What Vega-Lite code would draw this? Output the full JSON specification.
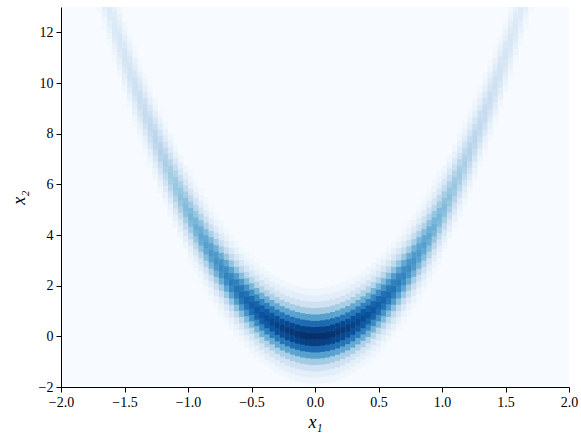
{
  "$schema": "https://vega.github.io/schema/vega-lite/v6.json",
  "width": 508,
  "height": 380,
  "autosize": {"type": "none"},
  "padding": {"left": 61, "top": 7, "right": 12, "bottom": 46},
  "background": "white",
  "config": {
    "view": {"stroke": null, "fill": "#f7fbff"},
    "axis": {
      "grid": false, "domainColor": "#000", "domainWidth": 1, "tickColor": "#000", "tickWidth": 1, "tickSize": 5,
      "labelColor": "#000", "labelFont": "Liberation Serif", "labelFontSize": 14, "labelPadding": 3,
      "labelFlush": false, "labelOverlap": false,
      "titleFont": "Liberation Serif", "titleFontSize": 18, "titleFontWeight": "normal", "titleFontStyle": "italic", "titleColor": "#000"
    }
  },
  "data": {"values": [
{"x":0.02,"y":-1.75,"d":0.044},{"x":0.02,"y":-1.5,"d":0.101},{"x":0.02,"y":-1.25,"d":0.203},{"x":0.02,"y":-1,"d":0.36},{"x":0.02,"y":-0.75,"d":0.563},{"x":0.02,"y":-0.5,"d":0.775},{"x":0.02,"y":-0.25,"d":0.938},{"x":0.02,"y":0,"d":1},{"x":0.02,"y":0.25,"d":0.938},{"x":0.02,"y":0.5,"d":0.775},{"x":0.02,"y":0.75,"d":0.563},{"x":0.02,"y":1,"d":0.36},{"x":0.02,"y":1.25,"d":0.203},{"x":0.02,"y":1.5,"d":0.101},{"x":0.02,"y":1.75,"d":0.044},
{"x":0.06,"y":-1.73,"d":0.044},{"x":0.06,"y":-1.48,"d":0.101},{"x":0.06,"y":-1.23,"d":0.202},{"x":0.06,"y":-0.98,"d":0.359},{"x":0.06,"y":-0.73,"d":0.561},{"x":0.06,"y":-0.48,"d":0.773},{"x":0.06,"y":-0.23,"d":0.935},{"x":0.06,"y":0.02,"d":0.997},{"x":0.06,"y":0.27,"d":0.935},{"x":0.06,"y":0.52,"d":0.773},{"x":0.06,"y":0.77,"d":0.561},{"x":0.06,"y":1.02,"d":0.359},{"x":0.06,"y":1.27,"d":0.202},{"x":0.06,"y":1.52,"d":0.101},{"x":0.06,"y":1.77,"d":0.044},
{"x":0.1,"y":-1.7,"d":0.044},{"x":0.1,"y":-1.45,"d":0.1},{"x":0.1,"y":-1.2,"d":0.201},{"x":0.1,"y":-0.95,"d":0.357},{"x":0.1,"y":-0.7,"d":0.558},{"x":0.1,"y":-0.45,"d":0.769},{"x":0.1,"y":-0.2,"d":0.93},{"x":0.1,"y":0.05,"d":0.992},{"x":0.1,"y":0.3,"d":0.93},{"x":0.1,"y":0.55,"d":0.769},{"x":0.1,"y":0.8,"d":0.558},{"x":0.1,"y":1.05,"d":0.357},{"x":0.1,"y":1.3,"d":0.201},{"x":0.1,"y":1.55,"d":0.1},{"x":0.1,"y":1.8,"d":0.044},
{"x":0.14,"y":-1.65,"d":0.043},{"x":0.14,"y":-1.4,"d":0.099},{"x":0.14,"y":-1.15,"d":0.2},{"x":0.14,"y":-0.9,"d":0.355},{"x":0.14,"y":-0.65,"d":0.555},{"x":0.14,"y":-0.4,"d":0.763},{"x":0.14,"y":-0.15,"d":0.924},{"x":0.14,"y":0.1,"d":0.985},{"x":0.14,"y":0.35,"d":0.924},{"x":0.14,"y":0.6,"d":0.763},{"x":0.14,"y":0.85,"d":0.555},{"x":0.14,"y":1.1,"d":0.355},{"x":0.14,"y":1.35,"d":0.2},{"x":0.14,"y":1.6,"d":0.099},{"x":0.14,"y":1.85,"d":0.043},
{"x":0.18,"y":-1.59,"d":0.043},{"x":0.18,"y":-1.34,"d":0.098},{"x":0.18,"y":-1.09,"d":0.198},{"x":0.18,"y":-0.84,"d":0.351},{"x":0.18,"y":-0.59,"d":0.549},{"x":0.18,"y":-0.34,"d":0.756},{"x":0.18,"y":-0.09,"d":0.915},{"x":0.18,"y":0.16,"d":0.975},{"x":0.18,"y":0.41,"d":0.915},{"x":0.18,"y":0.66,"d":0.756},{"x":0.18,"y":0.91,"d":0.549},{"x":0.18,"y":1.16,"d":0.351},{"x":0.18,"y":1.41,"d":0.198},{"x":0.18,"y":1.66,"d":0.098},{"x":0.18,"y":1.91,"d":0.043},
{"x":0.22,"y":-1.51,"d":0.042},{"x":0.22,"y":-1.26,"d":0.097},{"x":0.22,"y":-1.01,"d":0.195},{"x":0.22,"y":-0.76,"d":0.347},{"x":0.22,"y":-0.51,"d":0.542},{"x":0.22,"y":-0.26,"d":0.746},{"x":0.22,"y":-0.01,"d":0.903},{"x":0.22,"y":0.24,"d":0.963},{"x":0.22,"y":0.49,"d":0.903},{"x":0.22,"y":0.74,"d":0.746},{"x":0.22,"y":0.99,"d":0.542},{"x":0.22,"y":1.24,"d":0.347},{"x":0.22,"y":1.49,"d":0.195},{"x":0.22,"y":1.74,"d":0.097},{"x":0.22,"y":1.99,"d":0.042},
{"x":0.26,"y":-1.42,"d":0.042},{"x":0.26,"y":-1.17,"d":0.096},{"x":0.26,"y":-0.92,"d":0.193},{"x":0.26,"y":-0.67,"d":0.342},{"x":0.26,"y":-0.42,"d":0.534},{"x":0.26,"y":-0.17,"d":0.735},{"x":0.26,"y":0.08,"d":0.89},{"x":0.26,"y":0.33,"d":0.949},{"x":0.26,"y":0.58,"d":0.89},{"x":0.26,"y":0.83,"d":0.735},{"x":0.26,"y":1.08,"d":0.534},{"x":0.26,"y":1.33,"d":0.342},{"x":0.26,"y":1.58,"d":0.193},{"x":0.26,"y":1.83,"d":0.096},{"x":0.26,"y":2.08,"d":0.042},
{"x":0.3,"y":-1.31,"d":0.041},{"x":0.3,"y":-1.06,"d":0.094},{"x":0.3,"y":-0.81,"d":0.189},{"x":0.3,"y":-0.56,"d":0.336},{"x":0.3,"y":-0.31,"d":0.525},{"x":0.3,"y":-0.06,"d":0.722},{"x":0.3,"y":0.19,"d":0.874},{"x":0.3,"y":0.44,"d":0.932},{"x":0.3,"y":0.69,"d":0.874},{"x":0.3,"y":0.94,"d":0.722},{"x":0.3,"y":1.19,"d":0.525},{"x":0.3,"y":1.44,"d":0.336},{"x":0.3,"y":1.69,"d":0.189},{"x":0.3,"y":1.94,"d":0.094},{"x":0.3,"y":2.19,"d":0.041},
{"x":0.34,"y":-1.18,"d":0.04},{"x":0.34,"y":-0.93,"d":0.092},{"x":0.34,"y":-0.68,"d":0.186},{"x":0.34,"y":-0.43,"d":0.329},{"x":0.34,"y":-0.18,"d":0.515},{"x":0.34,"y":0.07,"d":0.708},{"x":0.34,"y":0.32,"d":0.857},{"x":0.34,"y":0.57,"d":0.914},{"x":0.34,"y":0.82,"d":0.857},{"x":0.34,"y":1.07,"d":0.708},{"x":0.34,"y":1.32,"d":0.515},{"x":0.34,"y":1.57,"d":0.329},{"x":0.34,"y":1.82,"d":0.186},{"x":0.34,"y":2.07,"d":0.092},{"x":0.34,"y":2.32,"d":0.04},
{"x":0.38,"y":-1.04,"d":0.039},{"x":0.38,"y":-0.79,"d":0.09},{"x":0.38,"y":-0.54,"d":0.181},{"x":0.38,"y":-0.29,"d":0.321},{"x":0.38,"y":-0.04,"d":0.503},{"x":0.38,"y":0.21,"d":0.692},{"x":0.38,"y":0.46,"d":0.838},{"x":0.38,"y":0.71,"d":0.893},{"x":0.38,"y":0.96,"d":0.838},{"x":0.38,"y":1.21,"d":0.692},{"x":0.38,"y":1.46,"d":0.503},{"x":0.38,"y":1.71,"d":0.321},{"x":0.38,"y":1.96,"d":0.181},{"x":0.38,"y":2.21,"d":0.09},{"x":0.38,"y":2.46,"d":0.039},
{"x":0.42,"y":-0.89,"d":0.038},{"x":0.42,"y":-0.64,"d":0.088},{"x":0.42,"y":-0.39,"d":0.177},{"x":0.42,"y":-0.14,"d":0.314},{"x":0.42,"y":0.11,"d":0.49},{"x":0.42,"y":0.36,"d":0.675},{"x":0.42,"y":0.61,"d":0.817},{"x":0.42,"y":0.86,"d":0.871},{"x":0.42,"y":1.11,"d":0.817},{"x":0.42,"y":1.36,"d":0.675},{"x":0.42,"y":1.61,"d":0.49},{"x":0.42,"y":1.86,"d":0.314},{"x":0.42,"y":2.11,"d":0.177},{"x":0.42,"y":2.36,"d":0.088},{"x":0.42,"y":2.61,"d":0.038},
{"x":0.46,"y":-0.71,"d":0.037},{"x":0.46,"y":-0.46,"d":0.086},{"x":0.46,"y":-0.21,"d":0.172},{"x":0.46,"y":0.04,"d":0.305},{"x":0.46,"y":0.29,"d":0.477},{"x":0.46,"y":0.54,"d":0.657},{"x":0.46,"y":0.79,"d":0.795},{"x":0.46,"y":1.04,"d":0.848},{"x":0.46,"y":1.29,"d":0.795},{"x":0.46,"y":1.54,"d":0.657},{"x":0.46,"y":1.79,"d":0.477},{"x":0.46,"y":2.04,"d":0.305},{"x":0.46,"y":2.29,"d":0.172},{"x":0.46,"y":2.54,"d":0.086},{"x":0.46,"y":2.79,"d":0.037},
{"x":0.5,"y":-0.52,"d":0.036},{"x":0.5,"y":-0.27,"d":0.083},{"x":0.5,"y":-0.02,"d":0.167},{"x":0.5,"y":0.23,"d":0.296},{"x":0.5,"y":0.48,"d":0.463},{"x":0.5,"y":0.73,"d":0.638},{"x":0.5,"y":0.98,"d":0.772},{"x":0.5,"y":1.23,"d":0.823},{"x":0.5,"y":1.48,"d":0.772},{"x":0.5,"y":1.73,"d":0.638},{"x":0.5,"y":1.98,"d":0.463},{"x":0.5,"y":2.23,"d":0.296},{"x":0.5,"y":2.48,"d":0.167},{"x":0.5,"y":2.73,"d":0.083},{"x":0.5,"y":2.98,"d":0.036},
{"x":0.54,"y":-0.32,"d":0.035},{"x":0.54,"y":-0.07,"d":0.08},{"x":0.54,"y":0.18,"d":0.162},{"x":0.54,"y":0.43,"d":0.287},{"x":0.54,"y":0.68,"d":0.448},{"x":0.54,"y":0.93,"d":0.617},{"x":0.54,"y":1.18,"d":0.747},{"x":0.54,"y":1.43,"d":0.796},{"x":0.54,"y":1.68,"d":0.747},{"x":0.54,"y":1.93,"d":0.617},{"x":0.54,"y":2.18,"d":0.448},{"x":0.54,"y":2.43,"d":0.287},{"x":0.54,"y":2.68,"d":0.162},{"x":0.54,"y":2.93,"d":0.08},{"x":0.54,"y":3.18,"d":0.035},
{"x":0.58,"y":-0.1,"d":0.034},{"x":0.58,"y":0.15,"d":0.078},{"x":0.58,"y":0.4,"d":0.156},{"x":0.58,"y":0.65,"d":0.277},{"x":0.58,"y":0.9,"d":0.433},{"x":0.58,"y":1.15,"d":0.596},{"x":0.58,"y":1.4,"d":0.721},{"x":0.58,"y":1.65,"d":0.769},{"x":0.58,"y":1.9,"d":0.721},{"x":0.58,"y":2.15,"d":0.596},{"x":0.58,"y":2.4,"d":0.433},{"x":0.58,"y":2.65,"d":0.277},{"x":0.58,"y":2.9,"d":0.156},{"x":0.58,"y":3.15,"d":0.078},{"x":0.58,"y":3.4,"d":0.034},
{"x":0.62,"y":0.13,"d":0.033},{"x":0.62,"y":0.38,"d":0.075},{"x":0.62,"y":0.63,"d":0.15},{"x":0.62,"y":0.88,"d":0.267},{"x":0.62,"y":1.13,"d":0.417},{"x":0.62,"y":1.38,"d":0.574},{"x":0.62,"y":1.63,"d":0.695},{"x":0.62,"y":1.88,"d":0.741},{"x":0.62,"y":2.13,"d":0.695},{"x":0.62,"y":2.38,"d":0.574},{"x":0.62,"y":2.63,"d":0.417},{"x":0.62,"y":2.88,"d":0.267},{"x":0.62,"y":3.13,"d":0.15},{"x":0.62,"y":3.38,"d":0.075},{"x":0.62,"y":3.63,"d":0.033},
{"x":0.66,"y":0.38,"d":0.031},{"x":0.66,"y":0.63,"d":0.072},{"x":0.66,"y":0.88,"d":0.145},{"x":0.66,"y":1.13,"d":0.256},{"x":0.66,"y":1.38,"d":0.401},{"x":0.66,"y":1.63,"d":0.552},{"x":0.66,"y":1.88,"d":0.668},{"x":0.66,"y":2.13,"d":0.712},{"x":0.66,"y":2.38,"d":0.668},{"x":0.66,"y":2.63,"d":0.552},{"x":0.66,"y":2.88,"d":0.401},{"x":0.66,"y":3.13,"d":0.256},{"x":0.66,"y":3.38,"d":0.145},{"x":0.66,"y":3.63,"d":0.072},{"x":0.66,"y":3.88,"d":0.031},
{"x":0.7,"y":0.65,"d":0.03},{"x":0.7,"y":0.9,"d":0.069},{"x":0.7,"y":1.15,"d":0.138},{"x":0.7,"y":1.4,"d":0.246},{"x":0.7,"y":1.65,"d":0.384},{"x":0.7,"y":1.9,"d":0.529},{"x":0.7,"y":2.15,"d":0.64},{"x":0.7,"y":2.4,"d":0.682},{"x":0.7,"y":2.65,"d":0.64},{"x":0.7,"y":2.9,"d":0.529},{"x":0.7,"y":3.15,"d":0.384},{"x":0.7,"y":3.4,"d":0.246},{"x":0.7,"y":3.65,"d":0.138},{"x":0.7,"y":3.9,"d":0.069},{"x":0.7,"y":4.15,"d":0.03},
{"x":0.74,"y":0.93,"d":0.029},{"x":0.74,"y":1.18,"d":0.066},{"x":0.74,"y":1.43,"d":0.132},{"x":0.74,"y":1.68,"d":0.235},{"x":0.74,"y":1.93,"d":0.367},{"x":0.74,"y":2.18,"d":0.505},{"x":0.74,"y":2.43,"d":0.612},{"x":0.74,"y":2.68,"d":0.652},{"x":0.74,"y":2.93,"d":0.612},{"x":0.74,"y":3.18,"d":0.505},{"x":0.74,"y":3.43,"d":0.367},{"x":0.74,"y":3.68,"d":0.235},{"x":0.74,"y":3.93,"d":0.132},{"x":0.74,"y":4.18,"d":0.066},{"x":0.74,"y":4.43,"d":0.029},
{"x":0.78,"y":1.23,"d":0.027},{"x":0.78,"y":1.48,"d":0.063},{"x":0.78,"y":1.73,"d":0.126},{"x":0.78,"y":1.98,"d":0.224},{"x":0.78,"y":2.23,"d":0.35},{"x":0.78,"y":2.48,"d":0.482},{"x":0.78,"y":2.73,"d":0.583},{"x":0.78,"y":2.98,"d":0.622},{"x":0.78,"y":3.23,"d":0.583},{"x":0.78,"y":3.48,"d":0.482},{"x":0.78,"y":3.73,"d":0.35},{"x":0.78,"y":3.98,"d":0.224},{"x":0.78,"y":4.23,"d":0.126},{"x":0.78,"y":4.48,"d":0.063},{"x":0.78,"y":4.73,"d":0.027},
{"x":0.82,"y":1.55,"d":0.026},{"x":0.82,"y":1.8,"d":0.06},{"x":0.82,"y":2.05,"d":0.12},{"x":0.82,"y":2.3,"d":0.213},{"x":0.82,"y":2.55,"d":0.333},{"x":0.82,"y":2.8,"d":0.458},{"x":0.82,"y":3.05,"d":0.554},{"x":0.82,"y":3.3,"d":0.591},{"x":0.82,"y":3.55,"d":0.554},{"x":0.82,"y":3.8,"d":0.458},{"x":0.82,"y":4.05,"d":0.333},{"x":0.82,"y":4.3,"d":0.213},{"x":0.82,"y":4.55,"d":0.12},{"x":0.82,"y":4.8,"d":0.06},{"x":0.82,"y":5.05,"d":0.026},
{"x":0.86,"y":1.87,"d":0.025},{"x":0.86,"y":2.12,"d":0.057},{"x":0.86,"y":2.37,"d":0.114},{"x":0.86,"y":2.62,"d":0.202},{"x":0.86,"y":2.87,"d":0.316},{"x":0.86,"y":3.12,"d":0.435},{"x":0.86,"y":3.37,"d":0.526},{"x":0.86,"y":3.62,"d":0.561},{"x":0.86,"y":3.87,"d":0.526},{"x":0.86,"y":4.12,"d":0.435},{"x":0.86,"y":4.37,"d":0.316},{"x":0.86,"y":4.62,"d":0.202},{"x":0.86,"y":4.87,"d":0.114},{"x":0.86,"y":5.12,"d":0.057},{"x":0.86,"y":5.37,"d":0.025},
{"x":0.9,"y":2.22,"d":0.023},{"x":0.9,"y":2.47,"d":0.054},{"x":0.9,"y":2.72,"d":0.108},{"x":0.9,"y":2.97,"d":0.191},{"x":0.9,"y":3.22,"d":0.299},{"x":0.9,"y":3.47,"d":0.412},{"x":0.9,"y":3.72,"d":0.498},{"x":0.9,"y":3.97,"d":0.531},{"x":0.9,"y":4.22,"d":0.498},{"x":0.9,"y":4.47,"d":0.412},{"x":0.9,"y":4.72,"d":0.299},{"x":0.9,"y":4.97,"d":0.191},{"x":0.9,"y":5.22,"d":0.108},{"x":0.9,"y":5.47,"d":0.054},{"x":0.9,"y":5.72,"d":0.023},
{"x":0.94,"y":2.58,"d":0.022},{"x":0.94,"y":2.83,"d":0.051},{"x":0.94,"y":3.08,"d":0.102},{"x":0.94,"y":3.33,"d":0.18},{"x":0.94,"y":3.58,"d":0.282},{"x":0.94,"y":3.83,"d":0.388},{"x":0.94,"y":4.08,"d":0.47},{"x":0.94,"y":4.33,"d":0.501},{"x":0.94,"y":4.58,"d":0.47},{"x":0.94,"y":4.83,"d":0.388},{"x":0.94,"y":5.08,"d":0.282},{"x":0.94,"y":5.33,"d":0.18},{"x":0.94,"y":5.58,"d":0.102},{"x":0.94,"y":5.83,"d":0.051},{"x":0.94,"y":6.08,"d":0.022},
{"x":0.98,"y":2.96,"d":0.021},{"x":0.98,"y":3.21,"d":0.048},{"x":0.98,"y":3.46,"d":0.096},{"x":0.98,"y":3.71,"d":0.17},{"x":0.98,"y":3.96,"d":0.266},{"x":0.98,"y":4.21,"d":0.366},{"x":0.98,"y":4.46,"d":0.443},{"x":0.98,"y":4.71,"d":0.472},{"x":0.98,"y":4.96,"d":0.443},{"x":0.98,"y":5.21,"d":0.366},{"x":0.98,"y":5.46,"d":0.266},{"x":0.98,"y":5.71,"d":0.17},{"x":0.98,"y":5.96,"d":0.096},{"x":0.98,"y":6.21,"d":0.048},{"x":0.98,"y":6.46,"d":0.021},
{"x":1.02,"y":3.6,"d":0.045},{"x":1.02,"y":3.85,"d":0.09},{"x":1.02,"y":4.1,"d":0.16},{"x":1.02,"y":4.35,"d":0.25},{"x":1.02,"y":4.6,"d":0.344},{"x":1.02,"y":4.85,"d":0.416},{"x":1.02,"y":5.1,"d":0.444},{"x":1.02,"y":5.35,"d":0.416},{"x":1.02,"y":5.6,"d":0.344},{"x":1.02,"y":5.85,"d":0.25},{"x":1.02,"y":6.1,"d":0.16},{"x":1.02,"y":6.35,"d":0.09},{"x":1.02,"y":6.6,"d":0.045},
{"x":1.06,"y":4.01,"d":0.042},{"x":1.06,"y":4.26,"d":0.084},{"x":1.06,"y":4.51,"d":0.15},{"x":1.06,"y":4.76,"d":0.234},{"x":1.06,"y":5.01,"d":0.322},{"x":1.06,"y":5.26,"d":0.39},{"x":1.06,"y":5.51,"d":0.416},{"x":1.06,"y":5.76,"d":0.39},{"x":1.06,"y":6.01,"d":0.322},{"x":1.06,"y":6.26,"d":0.234},{"x":1.06,"y":6.51,"d":0.15},{"x":1.06,"y":6.76,"d":0.084},{"x":1.06,"y":7.01,"d":0.042},
{"x":1.1,"y":4.43,"d":0.039},{"x":1.1,"y":4.68,"d":0.079},{"x":1.1,"y":4.93,"d":0.14},{"x":1.1,"y":5.18,"d":0.219},{"x":1.1,"y":5.43,"d":0.301},{"x":1.1,"y":5.68,"d":0.365},{"x":1.1,"y":5.93,"d":0.389},{"x":1.1,"y":6.18,"d":0.365},{"x":1.1,"y":6.43,"d":0.301},{"x":1.1,"y":6.68,"d":0.219},{"x":1.1,"y":6.93,"d":0.14},{"x":1.1,"y":7.18,"d":0.079},{"x":1.1,"y":7.43,"d":0.039},
{"x":1.14,"y":4.87,"d":0.037},{"x":1.14,"y":5.12,"d":0.073},{"x":1.14,"y":5.37,"d":0.13},{"x":1.14,"y":5.62,"d":0.204},{"x":1.14,"y":5.87,"d":0.281},{"x":1.14,"y":6.12,"d":0.34},{"x":1.14,"y":6.37,"d":0.362},{"x":1.14,"y":6.62,"d":0.34},{"x":1.14,"y":6.87,"d":0.281},{"x":1.14,"y":7.12,"d":0.204},{"x":1.14,"y":7.37,"d":0.13},{"x":1.14,"y":7.62,"d":0.073},{"x":1.14,"y":7.87,"d":0.037},
{"x":1.18,"y":5.32,"d":0.034},{"x":1.18,"y":5.57,"d":0.068},{"x":1.18,"y":5.82,"d":0.121},{"x":1.18,"y":6.07,"d":0.19},{"x":1.18,"y":6.32,"d":0.261},{"x":1.18,"y":6.57,"d":0.316},{"x":1.18,"y":6.82,"d":0.337},{"x":1.18,"y":7.07,"d":0.316},{"x":1.18,"y":7.32,"d":0.261},{"x":1.18,"y":7.57,"d":0.19},{"x":1.18,"y":7.82,"d":0.121},{"x":1.18,"y":8.07,"d":0.068},{"x":1.18,"y":8.32,"d":0.034},
{"x":1.22,"y":5.79,"d":0.032},{"x":1.22,"y":6.04,"d":0.064},{"x":1.22,"y":6.29,"d":0.113},{"x":1.22,"y":6.54,"d":0.176},{"x":1.22,"y":6.79,"d":0.243},{"x":1.22,"y":7.04,"d":0.294},{"x":1.22,"y":7.29,"d":0.313},{"x":1.22,"y":7.54,"d":0.294},{"x":1.22,"y":7.79,"d":0.243},{"x":1.22,"y":8.04,"d":0.176},{"x":1.22,"y":8.29,"d":0.113},{"x":1.22,"y":8.54,"d":0.064},{"x":1.22,"y":8.79,"d":0.032},
{"x":1.26,"y":6.28,"d":0.029},{"x":1.26,"y":6.53,"d":0.059},{"x":1.26,"y":6.78,"d":0.104},{"x":1.26,"y":7.03,"d":0.163},{"x":1.26,"y":7.28,"d":0.224},{"x":1.26,"y":7.53,"d":0.271},{"x":1.26,"y":7.78,"d":0.289},{"x":1.26,"y":8.03,"d":0.271},{"x":1.26,"y":8.28,"d":0.224},{"x":1.26,"y":8.53,"d":0.163},{"x":1.26,"y":8.78,"d":0.104},{"x":1.26,"y":9.03,"d":0.059},{"x":1.26,"y":9.28,"d":0.029},
{"x":1.3,"y":6.78,"d":0.027},{"x":1.3,"y":7.03,"d":0.054},{"x":1.3,"y":7.28,"d":0.096},{"x":1.3,"y":7.53,"d":0.15},{"x":1.3,"y":7.78,"d":0.207},{"x":1.3,"y":8.03,"d":0.25},{"x":1.3,"y":8.28,"d":0.267},{"x":1.3,"y":8.53,"d":0.25},{"x":1.3,"y":8.78,"d":0.207},{"x":1.3,"y":9.03,"d":0.15},{"x":1.3,"y":9.28,"d":0.096},{"x":1.3,"y":9.53,"d":0.054},{"x":1.3,"y":9.78,"d":0.027},
{"x":1.34,"y":7.3,"d":0.025},{"x":1.34,"y":7.55,"d":0.05},{"x":1.34,"y":7.8,"d":0.089},{"x":1.34,"y":8.05,"d":0.138},{"x":1.34,"y":8.3,"d":0.191},{"x":1.34,"y":8.55,"d":0.231},{"x":1.34,"y":8.8,"d":0.246},{"x":1.34,"y":9.05,"d":0.231},{"x":1.34,"y":9.3,"d":0.191},{"x":1.34,"y":9.55,"d":0.138},{"x":1.34,"y":9.8,"d":0.089},{"x":1.34,"y":10.05,"d":0.05},{"x":1.34,"y":10.3,"d":0.025},
{"x":1.38,"y":7.83,"d":0.023},{"x":1.38,"y":8.08,"d":0.046},{"x":1.38,"y":8.33,"d":0.081},{"x":1.38,"y":8.58,"d":0.127},{"x":1.38,"y":8.83,"d":0.175},{"x":1.38,"y":9.08,"d":0.212},{"x":1.38,"y":9.33,"d":0.226},{"x":1.38,"y":9.58,"d":0.212},{"x":1.38,"y":9.83,"d":0.175},{"x":1.38,"y":10.08,"d":0.127},{"x":1.38,"y":10.33,"d":0.081},{"x":1.38,"y":10.58,"d":0.046},{"x":1.38,"y":10.83,"d":0.023},
{"x":1.42,"y":8.38,"d":0.021},{"x":1.42,"y":8.63,"d":0.042},{"x":1.42,"y":8.88,"d":0.075},{"x":1.42,"y":9.13,"d":0.117},{"x":1.42,"y":9.38,"d":0.16},{"x":1.42,"y":9.63,"d":0.194},{"x":1.42,"y":9.88,"d":0.207},{"x":1.42,"y":10.13,"d":0.194},{"x":1.42,"y":10.38,"d":0.16},{"x":1.42,"y":10.63,"d":0.117},{"x":1.42,"y":10.88,"d":0.075},{"x":1.42,"y":11.13,"d":0.042},{"x":1.42,"y":11.38,"d":0.021},
{"x":1.46,"y":9.2,"d":0.038},{"x":1.46,"y":9.45,"d":0.068},{"x":1.46,"y":9.7,"d":0.106},{"x":1.46,"y":9.95,"d":0.146},{"x":1.46,"y":10.2,"d":0.177},{"x":1.46,"y":10.45,"d":0.189},{"x":1.46,"y":10.7,"d":0.177},{"x":1.46,"y":10.95,"d":0.146},{"x":1.46,"y":11.2,"d":0.106},{"x":1.46,"y":11.45,"d":0.068},{"x":1.46,"y":11.7,"d":0.038},
{"x":1.5,"y":9.78,"d":0.035},{"x":1.5,"y":10.03,"d":0.062},{"x":1.5,"y":10.28,"d":0.097},{"x":1.5,"y":10.53,"d":0.133},{"x":1.5,"y":10.78,"d":0.161},{"x":1.5,"y":11.03,"d":0.172},{"x":1.5,"y":11.28,"d":0.161},{"x":1.5,"y":11.53,"d":0.133},{"x":1.5,"y":11.78,"d":0.097},{"x":1.5,"y":12.03,"d":0.062},{"x":1.5,"y":12.28,"d":0.035},
{"x":1.54,"y":10.37,"d":0.032},{"x":1.54,"y":10.62,"d":0.057},{"x":1.54,"y":10.87,"d":0.088},{"x":1.54,"y":11.12,"d":0.122},{"x":1.54,"y":11.37,"d":0.147},{"x":1.54,"y":11.62,"d":0.157},{"x":1.54,"y":11.87,"d":0.147},{"x":1.54,"y":12.12,"d":0.122},{"x":1.54,"y":12.37,"d":0.088},{"x":1.54,"y":12.62,"d":0.057},{"x":1.54,"y":12.87,"d":0.032},
{"x":1.58,"y":10.98,"d":0.029},{"x":1.58,"y":11.23,"d":0.051},{"x":1.58,"y":11.48,"d":0.08},{"x":1.58,"y":11.73,"d":0.11},{"x":1.58,"y":11.98,"d":0.133},{"x":1.58,"y":12.23,"d":0.142},{"x":1.58,"y":12.48,"d":0.133},{"x":1.58,"y":12.73,"d":0.11},{"x":1.58,"y":12.98,"d":0.08},
{"x":1.62,"y":11.61,"d":0.026},{"x":1.62,"y":11.86,"d":0.046},{"x":1.62,"y":12.11,"d":0.073},{"x":1.62,"y":12.36,"d":0.1},{"x":1.62,"y":12.61,"d":0.121},{"x":1.62,"y":12.86,"d":0.129},
{"x":1.66,"y":12.25,"d":0.024},{"x":1.66,"y":12.5,"d":0.042},{"x":1.66,"y":12.75,"d":0.065},{"x":1.66,"y":13,"d":0.09},
{"x":1.7,"y":12.91,"d":0.021},
{"x":-0.02,"y":-1.75,"d":0.044},{"x":-0.02,"y":-1.5,"d":0.101},{"x":-0.02,"y":-1.25,"d":0.203},{"x":-0.02,"y":-1,"d":0.36},{"x":-0.02,"y":-0.75,"d":0.563},{"x":-0.02,"y":-0.5,"d":0.775},{"x":-0.02,"y":-0.25,"d":0.938},{"x":-0.02,"y":0,"d":1},{"x":-0.02,"y":0.25,"d":0.938},{"x":-0.02,"y":0.5,"d":0.775},{"x":-0.02,"y":0.75,"d":0.563},{"x":-0.02,"y":1,"d":0.36},{"x":-0.02,"y":1.25,"d":0.203},{"x":-0.02,"y":1.5,"d":0.101},{"x":-0.02,"y":1.75,"d":0.044},
{"x":-0.06,"y":-1.73,"d":0.044},{"x":-0.06,"y":-1.48,"d":0.101},{"x":-0.06,"y":-1.23,"d":0.202},{"x":-0.06,"y":-0.98,"d":0.359},{"x":-0.06,"y":-0.73,"d":0.561},{"x":-0.06,"y":-0.48,"d":0.773},{"x":-0.06,"y":-0.23,"d":0.935},{"x":-0.06,"y":0.02,"d":0.997},{"x":-0.06,"y":0.27,"d":0.935},{"x":-0.06,"y":0.52,"d":0.773},{"x":-0.06,"y":0.77,"d":0.561},{"x":-0.06,"y":1.02,"d":0.359},{"x":-0.06,"y":1.27,"d":0.202},{"x":-0.06,"y":1.52,"d":0.101},{"x":-0.06,"y":1.77,"d":0.044},
{"x":-0.1,"y":-1.7,"d":0.044},{"x":-0.1,"y":-1.45,"d":0.1},{"x":-0.1,"y":-1.2,"d":0.201},{"x":-0.1,"y":-0.95,"d":0.357},{"x":-0.1,"y":-0.7,"d":0.558},{"x":-0.1,"y":-0.45,"d":0.769},{"x":-0.1,"y":-0.2,"d":0.93},{"x":-0.1,"y":0.05,"d":0.992},{"x":-0.1,"y":0.3,"d":0.93},{"x":-0.1,"y":0.55,"d":0.769},{"x":-0.1,"y":0.8,"d":0.558},{"x":-0.1,"y":1.05,"d":0.357},{"x":-0.1,"y":1.3,"d":0.201},{"x":-0.1,"y":1.55,"d":0.1},{"x":-0.1,"y":1.8,"d":0.044},
{"x":-0.14,"y":-1.65,"d":0.043},{"x":-0.14,"y":-1.4,"d":0.099},{"x":-0.14,"y":-1.15,"d":0.2},{"x":-0.14,"y":-0.9,"d":0.355},{"x":-0.14,"y":-0.65,"d":0.555},{"x":-0.14,"y":-0.4,"d":0.763},{"x":-0.14,"y":-0.15,"d":0.924},{"x":-0.14,"y":0.1,"d":0.985},{"x":-0.14,"y":0.35,"d":0.924},{"x":-0.14,"y":0.6,"d":0.763},{"x":-0.14,"y":0.85,"d":0.555},{"x":-0.14,"y":1.1,"d":0.355},{"x":-0.14,"y":1.35,"d":0.2},{"x":-0.14,"y":1.6,"d":0.099},{"x":-0.14,"y":1.85,"d":0.043},
{"x":-0.18,"y":-1.59,"d":0.043},{"x":-0.18,"y":-1.34,"d":0.098},{"x":-0.18,"y":-1.09,"d":0.198},{"x":-0.18,"y":-0.84,"d":0.351},{"x":-0.18,"y":-0.59,"d":0.549},{"x":-0.18,"y":-0.34,"d":0.756},{"x":-0.18,"y":-0.09,"d":0.915},{"x":-0.18,"y":0.16,"d":0.975},{"x":-0.18,"y":0.41,"d":0.915},{"x":-0.18,"y":0.66,"d":0.756},{"x":-0.18,"y":0.91,"d":0.549},{"x":-0.18,"y":1.16,"d":0.351},{"x":-0.18,"y":1.41,"d":0.198},{"x":-0.18,"y":1.66,"d":0.098},{"x":-0.18,"y":1.91,"d":0.043},
{"x":-0.22,"y":-1.51,"d":0.042},{"x":-0.22,"y":-1.26,"d":0.097},{"x":-0.22,"y":-1.01,"d":0.195},{"x":-0.22,"y":-0.76,"d":0.347},{"x":-0.22,"y":-0.51,"d":0.542},{"x":-0.22,"y":-0.26,"d":0.746},{"x":-0.22,"y":-0.01,"d":0.903},{"x":-0.22,"y":0.24,"d":0.963},{"x":-0.22,"y":0.49,"d":0.903},{"x":-0.22,"y":0.74,"d":0.746},{"x":-0.22,"y":0.99,"d":0.542},{"x":-0.22,"y":1.24,"d":0.347},{"x":-0.22,"y":1.49,"d":0.195},{"x":-0.22,"y":1.74,"d":0.097},{"x":-0.22,"y":1.99,"d":0.042},
{"x":-0.26,"y":-1.42,"d":0.042},{"x":-0.26,"y":-1.17,"d":0.096},{"x":-0.26,"y":-0.92,"d":0.193},{"x":-0.26,"y":-0.67,"d":0.342},{"x":-0.26,"y":-0.42,"d":0.534},{"x":-0.26,"y":-0.17,"d":0.735},{"x":-0.26,"y":0.08,"d":0.89},{"x":-0.26,"y":0.33,"d":0.949},{"x":-0.26,"y":0.58,"d":0.89},{"x":-0.26,"y":0.83,"d":0.735},{"x":-0.26,"y":1.08,"d":0.534},{"x":-0.26,"y":1.33,"d":0.342},{"x":-0.26,"y":1.58,"d":0.193},{"x":-0.26,"y":1.83,"d":0.096},{"x":-0.26,"y":2.08,"d":0.042},
{"x":-0.3,"y":-1.31,"d":0.041},{"x":-0.3,"y":-1.06,"d":0.094},{"x":-0.3,"y":-0.81,"d":0.189},{"x":-0.3,"y":-0.56,"d":0.336},{"x":-0.3,"y":-0.31,"d":0.525},{"x":-0.3,"y":-0.06,"d":0.722},{"x":-0.3,"y":0.19,"d":0.874},{"x":-0.3,"y":0.44,"d":0.932},{"x":-0.3,"y":0.69,"d":0.874},{"x":-0.3,"y":0.94,"d":0.722},{"x":-0.3,"y":1.19,"d":0.525},{"x":-0.3,"y":1.44,"d":0.336},{"x":-0.3,"y":1.69,"d":0.189},{"x":-0.3,"y":1.94,"d":0.094},{"x":-0.3,"y":2.19,"d":0.041},
{"x":-0.34,"y":-1.18,"d":0.04},{"x":-0.34,"y":-0.93,"d":0.092},{"x":-0.34,"y":-0.68,"d":0.186},{"x":-0.34,"y":-0.43,"d":0.329},{"x":-0.34,"y":-0.18,"d":0.515},{"x":-0.34,"y":0.07,"d":0.708},{"x":-0.34,"y":0.32,"d":0.857},{"x":-0.34,"y":0.57,"d":0.914},{"x":-0.34,"y":0.82,"d":0.857},{"x":-0.34,"y":1.07,"d":0.708},{"x":-0.34,"y":1.32,"d":0.515},{"x":-0.34,"y":1.57,"d":0.329},{"x":-0.34,"y":1.82,"d":0.186},{"x":-0.34,"y":2.07,"d":0.092},{"x":-0.34,"y":2.32,"d":0.04},
{"x":-0.38,"y":-1.04,"d":0.039},{"x":-0.38,"y":-0.79,"d":0.09},{"x":-0.38,"y":-0.54,"d":0.181},{"x":-0.38,"y":-0.29,"d":0.321},{"x":-0.38,"y":-0.04,"d":0.503},{"x":-0.38,"y":0.21,"d":0.692},{"x":-0.38,"y":0.46,"d":0.838},{"x":-0.38,"y":0.71,"d":0.893},{"x":-0.38,"y":0.96,"d":0.838},{"x":-0.38,"y":1.21,"d":0.692},{"x":-0.38,"y":1.46,"d":0.503},{"x":-0.38,"y":1.71,"d":0.321},{"x":-0.38,"y":1.96,"d":0.181},{"x":-0.38,"y":2.21,"d":0.09},{"x":-0.38,"y":2.46,"d":0.039},
{"x":-0.42,"y":-0.89,"d":0.038},{"x":-0.42,"y":-0.64,"d":0.088},{"x":-0.42,"y":-0.39,"d":0.177},{"x":-0.42,"y":-0.14,"d":0.314},{"x":-0.42,"y":0.11,"d":0.49},{"x":-0.42,"y":0.36,"d":0.675},{"x":-0.42,"y":0.61,"d":0.817},{"x":-0.42,"y":0.86,"d":0.871},{"x":-0.42,"y":1.11,"d":0.817},{"x":-0.42,"y":1.36,"d":0.675},{"x":-0.42,"y":1.61,"d":0.49},{"x":-0.42,"y":1.86,"d":0.314},{"x":-0.42,"y":2.11,"d":0.177},{"x":-0.42,"y":2.36,"d":0.088},{"x":-0.42,"y":2.61,"d":0.038},
{"x":-0.46,"y":-0.71,"d":0.037},{"x":-0.46,"y":-0.46,"d":0.086},{"x":-0.46,"y":-0.21,"d":0.172},{"x":-0.46,"y":0.04,"d":0.305},{"x":-0.46,"y":0.29,"d":0.477},{"x":-0.46,"y":0.54,"d":0.657},{"x":-0.46,"y":0.79,"d":0.795},{"x":-0.46,"y":1.04,"d":0.848},{"x":-0.46,"y":1.29,"d":0.795},{"x":-0.46,"y":1.54,"d":0.657},{"x":-0.46,"y":1.79,"d":0.477},{"x":-0.46,"y":2.04,"d":0.305},{"x":-0.46,"y":2.29,"d":0.172},{"x":-0.46,"y":2.54,"d":0.086},{"x":-0.46,"y":2.79,"d":0.037},
{"x":-0.5,"y":-0.52,"d":0.036},{"x":-0.5,"y":-0.27,"d":0.083},{"x":-0.5,"y":-0.02,"d":0.167},{"x":-0.5,"y":0.23,"d":0.296},{"x":-0.5,"y":0.48,"d":0.463},{"x":-0.5,"y":0.73,"d":0.638},{"x":-0.5,"y":0.98,"d":0.772},{"x":-0.5,"y":1.23,"d":0.823},{"x":-0.5,"y":1.48,"d":0.772},{"x":-0.5,"y":1.73,"d":0.638},{"x":-0.5,"y":1.98,"d":0.463},{"x":-0.5,"y":2.23,"d":0.296},{"x":-0.5,"y":2.48,"d":0.167},{"x":-0.5,"y":2.73,"d":0.083},{"x":-0.5,"y":2.98,"d":0.036},
{"x":-0.54,"y":-0.32,"d":0.035},{"x":-0.54,"y":-0.07,"d":0.08},{"x":-0.54,"y":0.18,"d":0.162},{"x":-0.54,"y":0.43,"d":0.287},{"x":-0.54,"y":0.68,"d":0.448},{"x":-0.54,"y":0.93,"d":0.617},{"x":-0.54,"y":1.18,"d":0.747},{"x":-0.54,"y":1.43,"d":0.796},{"x":-0.54,"y":1.68,"d":0.747},{"x":-0.54,"y":1.93,"d":0.617},{"x":-0.54,"y":2.18,"d":0.448},{"x":-0.54,"y":2.43,"d":0.287},{"x":-0.54,"y":2.68,"d":0.162},{"x":-0.54,"y":2.93,"d":0.08},{"x":-0.54,"y":3.18,"d":0.035},
{"x":-0.58,"y":-0.1,"d":0.034},{"x":-0.58,"y":0.15,"d":0.078},{"x":-0.58,"y":0.4,"d":0.156},{"x":-0.58,"y":0.65,"d":0.277},{"x":-0.58,"y":0.9,"d":0.433},{"x":-0.58,"y":1.15,"d":0.596},{"x":-0.58,"y":1.4,"d":0.721},{"x":-0.58,"y":1.65,"d":0.769},{"x":-0.58,"y":1.9,"d":0.721},{"x":-0.58,"y":2.15,"d":0.596},{"x":-0.58,"y":2.4,"d":0.433},{"x":-0.58,"y":2.65,"d":0.277},{"x":-0.58,"y":2.9,"d":0.156},{"x":-0.58,"y":3.15,"d":0.078},{"x":-0.58,"y":3.4,"d":0.034},
{"x":-0.62,"y":0.13,"d":0.033},{"x":-0.62,"y":0.38,"d":0.075},{"x":-0.62,"y":0.63,"d":0.15},{"x":-0.62,"y":0.88,"d":0.267},{"x":-0.62,"y":1.13,"d":0.417},{"x":-0.62,"y":1.38,"d":0.574},{"x":-0.62,"y":1.63,"d":0.695},{"x":-0.62,"y":1.88,"d":0.741},{"x":-0.62,"y":2.13,"d":0.695},{"x":-0.62,"y":2.38,"d":0.574},{"x":-0.62,"y":2.63,"d":0.417},{"x":-0.62,"y":2.88,"d":0.267},{"x":-0.62,"y":3.13,"d":0.15},{"x":-0.62,"y":3.38,"d":0.075},{"x":-0.62,"y":3.63,"d":0.033},
{"x":-0.66,"y":0.38,"d":0.031},{"x":-0.66,"y":0.63,"d":0.072},{"x":-0.66,"y":0.88,"d":0.145},{"x":-0.66,"y":1.13,"d":0.256},{"x":-0.66,"y":1.38,"d":0.401},{"x":-0.66,"y":1.63,"d":0.552},{"x":-0.66,"y":1.88,"d":0.668},{"x":-0.66,"y":2.13,"d":0.712},{"x":-0.66,"y":2.38,"d":0.668},{"x":-0.66,"y":2.63,"d":0.552},{"x":-0.66,"y":2.88,"d":0.401},{"x":-0.66,"y":3.13,"d":0.256},{"x":-0.66,"y":3.38,"d":0.145},{"x":-0.66,"y":3.63,"d":0.072},{"x":-0.66,"y":3.88,"d":0.031},
{"x":-0.7,"y":0.65,"d":0.03},{"x":-0.7,"y":0.9,"d":0.069},{"x":-0.7,"y":1.15,"d":0.138},{"x":-0.7,"y":1.4,"d":0.246},{"x":-0.7,"y":1.65,"d":0.384},{"x":-0.7,"y":1.9,"d":0.529},{"x":-0.7,"y":2.15,"d":0.64},{"x":-0.7,"y":2.4,"d":0.682},{"x":-0.7,"y":2.65,"d":0.64},{"x":-0.7,"y":2.9,"d":0.529},{"x":-0.7,"y":3.15,"d":0.384},{"x":-0.7,"y":3.4,"d":0.246},{"x":-0.7,"y":3.65,"d":0.138},{"x":-0.7,"y":3.9,"d":0.069},{"x":-0.7,"y":4.15,"d":0.03},
{"x":-0.74,"y":0.93,"d":0.029},{"x":-0.74,"y":1.18,"d":0.066},{"x":-0.74,"y":1.43,"d":0.132},{"x":-0.74,"y":1.68,"d":0.235},{"x":-0.74,"y":1.93,"d":0.367},{"x":-0.74,"y":2.18,"d":0.505},{"x":-0.74,"y":2.43,"d":0.612},{"x":-0.74,"y":2.68,"d":0.652},{"x":-0.74,"y":2.93,"d":0.612},{"x":-0.74,"y":3.18,"d":0.505},{"x":-0.74,"y":3.43,"d":0.367},{"x":-0.74,"y":3.68,"d":0.235},{"x":-0.74,"y":3.93,"d":0.132},{"x":-0.74,"y":4.18,"d":0.066},{"x":-0.74,"y":4.43,"d":0.029},
{"x":-0.78,"y":1.23,"d":0.027},{"x":-0.78,"y":1.48,"d":0.063},{"x":-0.78,"y":1.73,"d":0.126},{"x":-0.78,"y":1.98,"d":0.224},{"x":-0.78,"y":2.23,"d":0.35},{"x":-0.78,"y":2.48,"d":0.482},{"x":-0.78,"y":2.73,"d":0.583},{"x":-0.78,"y":2.98,"d":0.622},{"x":-0.78,"y":3.23,"d":0.583},{"x":-0.78,"y":3.48,"d":0.482},{"x":-0.78,"y":3.73,"d":0.35},{"x":-0.78,"y":3.98,"d":0.224},{"x":-0.78,"y":4.23,"d":0.126},{"x":-0.78,"y":4.48,"d":0.063},{"x":-0.78,"y":4.73,"d":0.027},
{"x":-0.82,"y":1.55,"d":0.026},{"x":-0.82,"y":1.8,"d":0.06},{"x":-0.82,"y":2.05,"d":0.12},{"x":-0.82,"y":2.3,"d":0.213},{"x":-0.82,"y":2.55,"d":0.333},{"x":-0.82,"y":2.8,"d":0.458},{"x":-0.82,"y":3.05,"d":0.554},{"x":-0.82,"y":3.3,"d":0.591},{"x":-0.82,"y":3.55,"d":0.554},{"x":-0.82,"y":3.8,"d":0.458},{"x":-0.82,"y":4.05,"d":0.333},{"x":-0.82,"y":4.3,"d":0.213},{"x":-0.82,"y":4.55,"d":0.12},{"x":-0.82,"y":4.8,"d":0.06},{"x":-0.82,"y":5.05,"d":0.026},
{"x":-0.86,"y":1.87,"d":0.025},{"x":-0.86,"y":2.12,"d":0.057},{"x":-0.86,"y":2.37,"d":0.114},{"x":-0.86,"y":2.62,"d":0.202},{"x":-0.86,"y":2.87,"d":0.316},{"x":-0.86,"y":3.12,"d":0.435},{"x":-0.86,"y":3.37,"d":0.526},{"x":-0.86,"y":3.62,"d":0.561},{"x":-0.86,"y":3.87,"d":0.526},{"x":-0.86,"y":4.12,"d":0.435},{"x":-0.86,"y":4.37,"d":0.316},{"x":-0.86,"y":4.62,"d":0.202},{"x":-0.86,"y":4.87,"d":0.114},{"x":-0.86,"y":5.12,"d":0.057},{"x":-0.86,"y":5.37,"d":0.025},
{"x":-0.9,"y":2.22,"d":0.023},{"x":-0.9,"y":2.47,"d":0.054},{"x":-0.9,"y":2.72,"d":0.108},{"x":-0.9,"y":2.97,"d":0.191},{"x":-0.9,"y":3.22,"d":0.299},{"x":-0.9,"y":3.47,"d":0.412},{"x":-0.9,"y":3.72,"d":0.498},{"x":-0.9,"y":3.97,"d":0.531},{"x":-0.9,"y":4.22,"d":0.498},{"x":-0.9,"y":4.47,"d":0.412},{"x":-0.9,"y":4.72,"d":0.299},{"x":-0.9,"y":4.97,"d":0.191},{"x":-0.9,"y":5.22,"d":0.108},{"x":-0.9,"y":5.47,"d":0.054},{"x":-0.9,"y":5.72,"d":0.023},
{"x":-0.94,"y":2.58,"d":0.022},{"x":-0.94,"y":2.83,"d":0.051},{"x":-0.94,"y":3.08,"d":0.102},{"x":-0.94,"y":3.33,"d":0.18},{"x":-0.94,"y":3.58,"d":0.282},{"x":-0.94,"y":3.83,"d":0.388},{"x":-0.94,"y":4.08,"d":0.47},{"x":-0.94,"y":4.33,"d":0.501},{"x":-0.94,"y":4.58,"d":0.47},{"x":-0.94,"y":4.83,"d":0.388},{"x":-0.94,"y":5.08,"d":0.282},{"x":-0.94,"y":5.33,"d":0.18},{"x":-0.94,"y":5.58,"d":0.102},{"x":-0.94,"y":5.83,"d":0.051},{"x":-0.94,"y":6.08,"d":0.022},
{"x":-0.98,"y":2.96,"d":0.021},{"x":-0.98,"y":3.21,"d":0.048},{"x":-0.98,"y":3.46,"d":0.096},{"x":-0.98,"y":3.71,"d":0.17},{"x":-0.98,"y":3.96,"d":0.266},{"x":-0.98,"y":4.21,"d":0.366},{"x":-0.98,"y":4.46,"d":0.443},{"x":-0.98,"y":4.71,"d":0.472},{"x":-0.98,"y":4.96,"d":0.443},{"x":-0.98,"y":5.21,"d":0.366},{"x":-0.98,"y":5.46,"d":0.266},{"x":-0.98,"y":5.71,"d":0.17},{"x":-0.98,"y":5.96,"d":0.096},{"x":-0.98,"y":6.21,"d":0.048},{"x":-0.98,"y":6.46,"d":0.021},
{"x":-1.02,"y":3.6,"d":0.045},{"x":-1.02,"y":3.85,"d":0.09},{"x":-1.02,"y":4.1,"d":0.16},{"x":-1.02,"y":4.35,"d":0.25},{"x":-1.02,"y":4.6,"d":0.344},{"x":-1.02,"y":4.85,"d":0.416},{"x":-1.02,"y":5.1,"d":0.444},{"x":-1.02,"y":5.35,"d":0.416},{"x":-1.02,"y":5.6,"d":0.344},{"x":-1.02,"y":5.85,"d":0.25},{"x":-1.02,"y":6.1,"d":0.16},{"x":-1.02,"y":6.35,"d":0.09},{"x":-1.02,"y":6.6,"d":0.045},
{"x":-1.06,"y":4.01,"d":0.042},{"x":-1.06,"y":4.26,"d":0.084},{"x":-1.06,"y":4.51,"d":0.15},{"x":-1.06,"y":4.76,"d":0.234},{"x":-1.06,"y":5.01,"d":0.322},{"x":-1.06,"y":5.26,"d":0.39},{"x":-1.06,"y":5.51,"d":0.416},{"x":-1.06,"y":5.76,"d":0.39},{"x":-1.06,"y":6.01,"d":0.322},{"x":-1.06,"y":6.26,"d":0.234},{"x":-1.06,"y":6.51,"d":0.15},{"x":-1.06,"y":6.76,"d":0.084},{"x":-1.06,"y":7.01,"d":0.042},
{"x":-1.1,"y":4.43,"d":0.039},{"x":-1.1,"y":4.68,"d":0.079},{"x":-1.1,"y":4.93,"d":0.14},{"x":-1.1,"y":5.18,"d":0.219},{"x":-1.1,"y":5.43,"d":0.301},{"x":-1.1,"y":5.68,"d":0.365},{"x":-1.1,"y":5.93,"d":0.389},{"x":-1.1,"y":6.18,"d":0.365},{"x":-1.1,"y":6.43,"d":0.301},{"x":-1.1,"y":6.68,"d":0.219},{"x":-1.1,"y":6.93,"d":0.14},{"x":-1.1,"y":7.18,"d":0.079},{"x":-1.1,"y":7.43,"d":0.039},
{"x":-1.14,"y":4.87,"d":0.037},{"x":-1.14,"y":5.12,"d":0.073},{"x":-1.14,"y":5.37,"d":0.13},{"x":-1.14,"y":5.62,"d":0.204},{"x":-1.14,"y":5.87,"d":0.281},{"x":-1.14,"y":6.12,"d":0.34},{"x":-1.14,"y":6.37,"d":0.362},{"x":-1.14,"y":6.62,"d":0.34},{"x":-1.14,"y":6.87,"d":0.281},{"x":-1.14,"y":7.12,"d":0.204},{"x":-1.14,"y":7.37,"d":0.13},{"x":-1.14,"y":7.62,"d":0.073},{"x":-1.14,"y":7.87,"d":0.037},
{"x":-1.18,"y":5.32,"d":0.034},{"x":-1.18,"y":5.57,"d":0.068},{"x":-1.18,"y":5.82,"d":0.121},{"x":-1.18,"y":6.07,"d":0.19},{"x":-1.18,"y":6.32,"d":0.261},{"x":-1.18,"y":6.57,"d":0.316},{"x":-1.18,"y":6.82,"d":0.337},{"x":-1.18,"y":7.07,"d":0.316},{"x":-1.18,"y":7.32,"d":0.261},{"x":-1.18,"y":7.57,"d":0.19},{"x":-1.18,"y":7.82,"d":0.121},{"x":-1.18,"y":8.07,"d":0.068},{"x":-1.18,"y":8.32,"d":0.034},
{"x":-1.22,"y":5.79,"d":0.032},{"x":-1.22,"y":6.04,"d":0.064},{"x":-1.22,"y":6.29,"d":0.113},{"x":-1.22,"y":6.54,"d":0.176},{"x":-1.22,"y":6.79,"d":0.243},{"x":-1.22,"y":7.04,"d":0.294},{"x":-1.22,"y":7.29,"d":0.313},{"x":-1.22,"y":7.54,"d":0.294},{"x":-1.22,"y":7.79,"d":0.243},{"x":-1.22,"y":8.04,"d":0.176},{"x":-1.22,"y":8.29,"d":0.113},{"x":-1.22,"y":8.54,"d":0.064},{"x":-1.22,"y":8.79,"d":0.032},
{"x":-1.26,"y":6.28,"d":0.029},{"x":-1.26,"y":6.53,"d":0.059},{"x":-1.26,"y":6.78,"d":0.104},{"x":-1.26,"y":7.03,"d":0.163},{"x":-1.26,"y":7.28,"d":0.224},{"x":-1.26,"y":7.53,"d":0.271},{"x":-1.26,"y":7.78,"d":0.289},{"x":-1.26,"y":8.03,"d":0.271},{"x":-1.26,"y":8.28,"d":0.224},{"x":-1.26,"y":8.53,"d":0.163},{"x":-1.26,"y":8.78,"d":0.104},{"x":-1.26,"y":9.03,"d":0.059},{"x":-1.26,"y":9.28,"d":0.029},
{"x":-1.3,"y":6.78,"d":0.027},{"x":-1.3,"y":7.03,"d":0.054},{"x":-1.3,"y":7.28,"d":0.096},{"x":-1.3,"y":7.53,"d":0.15},{"x":-1.3,"y":7.78,"d":0.207},{"x":-1.3,"y":8.03,"d":0.25},{"x":-1.3,"y":8.28,"d":0.267},{"x":-1.3,"y":8.53,"d":0.25},{"x":-1.3,"y":8.78,"d":0.207},{"x":-1.3,"y":9.03,"d":0.15},{"x":-1.3,"y":9.28,"d":0.096},{"x":-1.3,"y":9.53,"d":0.054},{"x":-1.3,"y":9.78,"d":0.027},
{"x":-1.34,"y":7.3,"d":0.025},{"x":-1.34,"y":7.55,"d":0.05},{"x":-1.34,"y":7.8,"d":0.089},{"x":-1.34,"y":8.05,"d":0.138},{"x":-1.34,"y":8.3,"d":0.191},{"x":-1.34,"y":8.55,"d":0.231},{"x":-1.34,"y":8.8,"d":0.246},{"x":-1.34,"y":9.05,"d":0.231},{"x":-1.34,"y":9.3,"d":0.191},{"x":-1.34,"y":9.55,"d":0.138},{"x":-1.34,"y":9.8,"d":0.089},{"x":-1.34,"y":10.05,"d":0.05},{"x":-1.34,"y":10.3,"d":0.025},
{"x":-1.38,"y":7.83,"d":0.023},{"x":-1.38,"y":8.08,"d":0.046},{"x":-1.38,"y":8.33,"d":0.081},{"x":-1.38,"y":8.58,"d":0.127},{"x":-1.38,"y":8.83,"d":0.175},{"x":-1.38,"y":9.08,"d":0.212},{"x":-1.38,"y":9.33,"d":0.226},{"x":-1.38,"y":9.58,"d":0.212},{"x":-1.38,"y":9.83,"d":0.175},{"x":-1.38,"y":10.08,"d":0.127},{"x":-1.38,"y":10.33,"d":0.081},{"x":-1.38,"y":10.58,"d":0.046},{"x":-1.38,"y":10.83,"d":0.023},
{"x":-1.42,"y":8.38,"d":0.021},{"x":-1.42,"y":8.63,"d":0.042},{"x":-1.42,"y":8.88,"d":0.075},{"x":-1.42,"y":9.13,"d":0.117},{"x":-1.42,"y":9.38,"d":0.16},{"x":-1.42,"y":9.63,"d":0.194},{"x":-1.42,"y":9.88,"d":0.207},{"x":-1.42,"y":10.13,"d":0.194},{"x":-1.42,"y":10.38,"d":0.16},{"x":-1.42,"y":10.63,"d":0.117},{"x":-1.42,"y":10.88,"d":0.075},{"x":-1.42,"y":11.13,"d":0.042},{"x":-1.42,"y":11.38,"d":0.021},
{"x":-1.46,"y":9.2,"d":0.038},{"x":-1.46,"y":9.45,"d":0.068},{"x":-1.46,"y":9.7,"d":0.106},{"x":-1.46,"y":9.95,"d":0.146},{"x":-1.46,"y":10.2,"d":0.177},{"x":-1.46,"y":10.45,"d":0.189},{"x":-1.46,"y":10.7,"d":0.177},{"x":-1.46,"y":10.95,"d":0.146},{"x":-1.46,"y":11.2,"d":0.106},{"x":-1.46,"y":11.45,"d":0.068},{"x":-1.46,"y":11.7,"d":0.038},
{"x":-1.5,"y":9.78,"d":0.035},{"x":-1.5,"y":10.03,"d":0.062},{"x":-1.5,"y":10.28,"d":0.097},{"x":-1.5,"y":10.53,"d":0.133},{"x":-1.5,"y":10.78,"d":0.161},{"x":-1.5,"y":11.03,"d":0.172},{"x":-1.5,"y":11.28,"d":0.161},{"x":-1.5,"y":11.53,"d":0.133},{"x":-1.5,"y":11.78,"d":0.097},{"x":-1.5,"y":12.03,"d":0.062},{"x":-1.5,"y":12.28,"d":0.035},
{"x":-1.54,"y":10.37,"d":0.032},{"x":-1.54,"y":10.62,"d":0.057},{"x":-1.54,"y":10.87,"d":0.088},{"x":-1.54,"y":11.12,"d":0.122},{"x":-1.54,"y":11.37,"d":0.147},{"x":-1.54,"y":11.62,"d":0.157},{"x":-1.54,"y":11.87,"d":0.147},{"x":-1.54,"y":12.12,"d":0.122},{"x":-1.54,"y":12.37,"d":0.088},{"x":-1.54,"y":12.62,"d":0.057},{"x":-1.54,"y":12.87,"d":0.032},
{"x":-1.58,"y":10.98,"d":0.029},{"x":-1.58,"y":11.23,"d":0.051},{"x":-1.58,"y":11.48,"d":0.08},{"x":-1.58,"y":11.73,"d":0.11},{"x":-1.58,"y":11.98,"d":0.133},{"x":-1.58,"y":12.23,"d":0.142},{"x":-1.58,"y":12.48,"d":0.133},{"x":-1.58,"y":12.73,"d":0.11},{"x":-1.58,"y":12.98,"d":0.08},
{"x":-1.62,"y":11.61,"d":0.026},{"x":-1.62,"y":11.86,"d":0.046},{"x":-1.62,"y":12.11,"d":0.073},{"x":-1.62,"y":12.36,"d":0.1},{"x":-1.62,"y":12.61,"d":0.121},{"x":-1.62,"y":12.86,"d":0.129},
{"x":-1.66,"y":12.25,"d":0.024},{"x":-1.66,"y":12.5,"d":0.042},{"x":-1.66,"y":12.75,"d":0.065},{"x":-1.66,"y":13,"d":0.09},
{"x":-1.7,"y":12.91,"d":0.021}
  ]},
  "mark": {"type": "tick", "orient": "vertical", "thickness": 5.5, "size": 6.9, "opacity": 1, "clip": true},
  "encoding": {
    "x": {
      "field": "x", "type": "quantitative",
      "scale": {"domain": [-2, 2], "nice": false, "zero": false},
      "axis": {"values": [-2, -1.5, -1, -0.5, 0, 0.5, 1, 1.5, 2], "format": ".1f", "title": "x₁", "titlePadding": 4}
    },
    "y": {
      "field": "y", "type": "quantitative",
      "scale": {"domain": [-2, 13], "nice": false, "zero": false},
      "axis": {"values": [-2, 0, 2, 4, 6, 8, 10, 12], "format": "d", "title": "x₂", "titlePadding": 10}
    },
    "color": {
      "field": "d", "type": "quantitative",
      "scale": {
        "domain": [0, 0.125, 0.25, 0.375, 0.5, 0.625, 0.75, 0.875, 1],
        "range": ["#f7fbff", "#deebf7", "#c6dbef", "#9ecae1", "#6baed6", "#4292c6", "#2171b5", "#08519c", "#08306b"],
        "interpolate": "rgb"
      },
      "legend": null
    }
  }
}
